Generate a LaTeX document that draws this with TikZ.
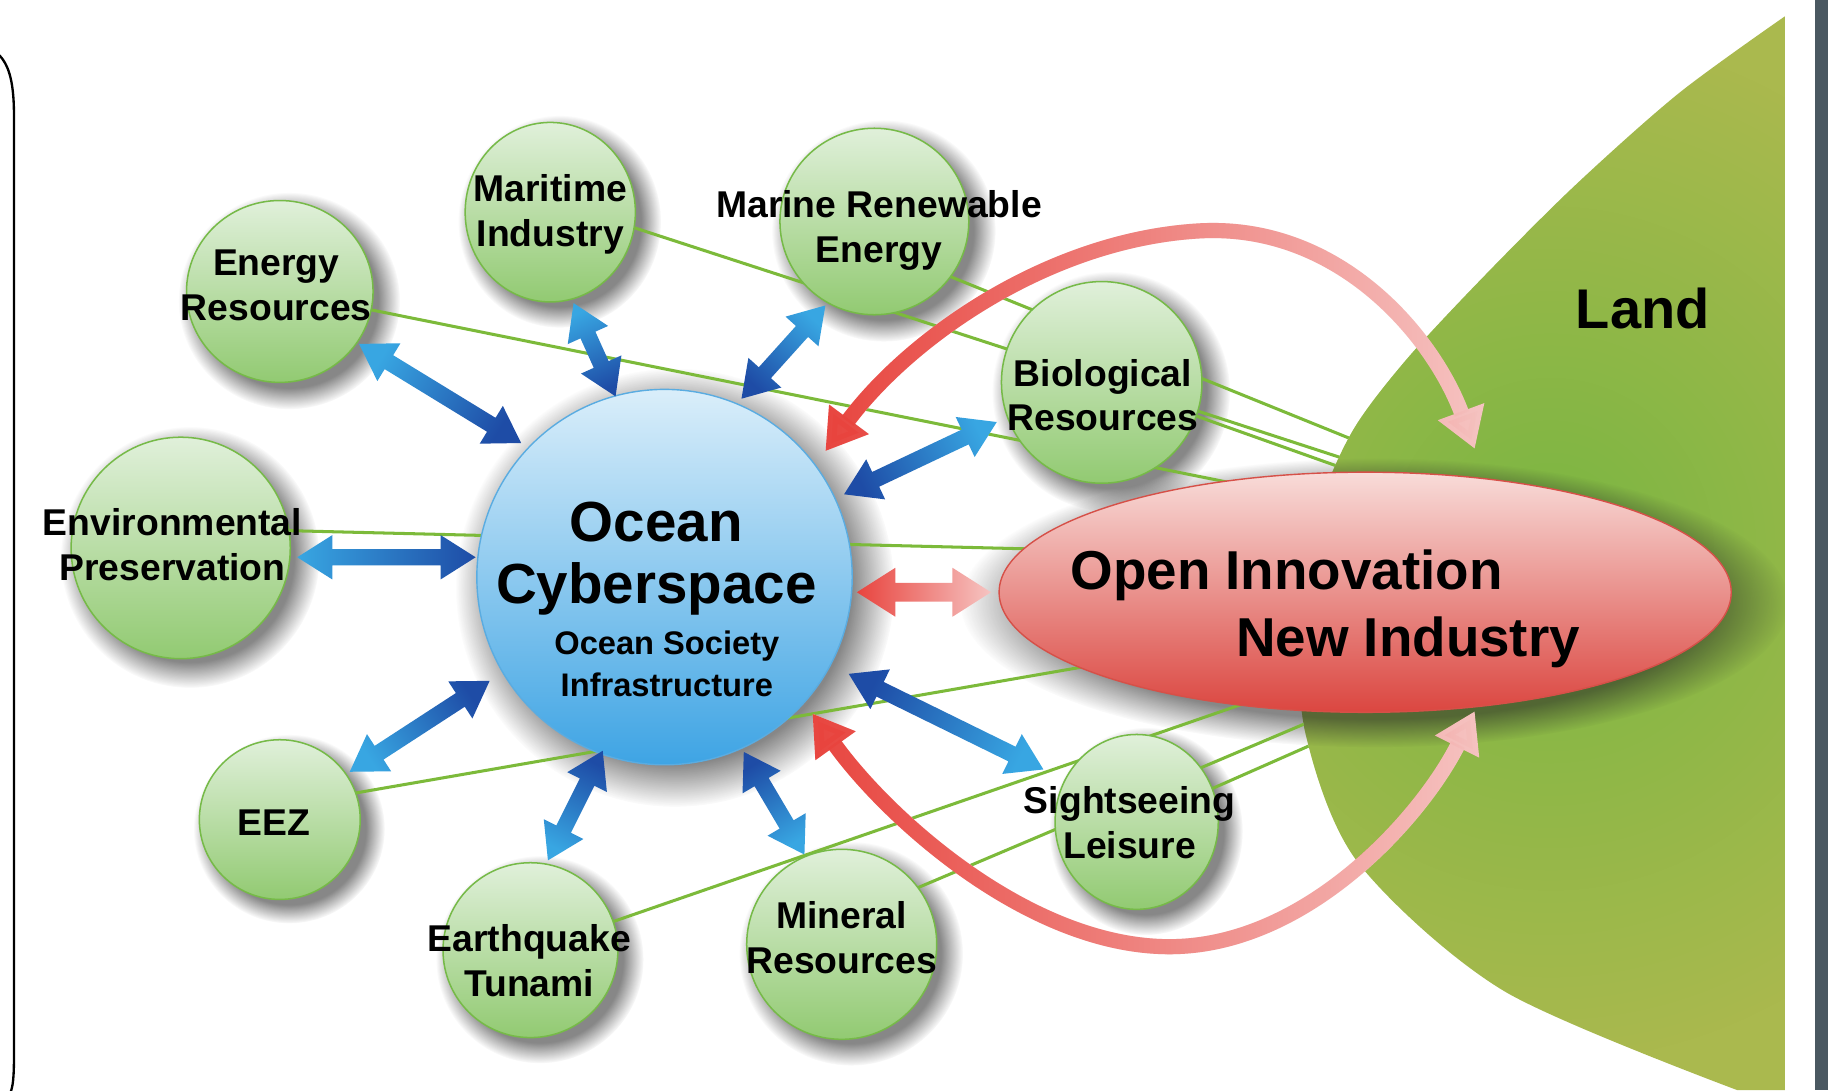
\documentclass[tikz,border=0pt]{standalone}
\usepackage{fontspec}
\setmainfont{Liberation Sans}
\usetikzlibrary{calc,fadings,arrows.meta,shapes.geometric}
\pgfdeclarelayer{bgl}
\pgfdeclarelayer{shl}
\pgfdeclarelayer{lnl}
\pgfsetlayers{bgl,shl,lnl,main}
\definecolor{gtop}{RGB}{224,240,218}
\definecolor{gbot}{RGB}{146,202,114}
\definecolor{gborder}{RGB}{118,186,72}
\definecolor{gline}{RGB}{124,186,58}
\definecolor{btop}{RGB}{218,238,250}
\definecolor{bbot}{RGB}{62,164,228}
\definecolor{bborder}{RGB}{90,172,225}
\definecolor{rtop}{RGB}{248,220,217}
\definecolor{rbot}{RGB}{219,70,64}
\definecolor{rborder}{RGB}{214,80,72}
\definecolor{landout}{RGB}{170,185,78}
\definecolor{landin}{RGB}{122,182,66}
\definecolor{adark}{RGB}{30,76,166}
\definecolor{alight}{RGB}{56,166,226}
\definecolor{rarrow}{RGB}{232,68,62}
\definecolor{parrow}{RGB}{246,196,194}
\definecolor{barc}{RGB}{74,88,97}
\tikzfading[name=fadeeast, left color=transparent!0, right color=transparent!100]
\tikzfading[name=blobfade, inner color=transparent!0, outer color=transparent!100]
\newcommand\mkdarrow[7]{%
  \shade[#4, shading angle=#3] (#1)
   -- ($(#1)!#5pt!(#2)!#6pt!90:(#2)$)
   -- ($(#1)!#5pt!(#2)!#7pt!90:(#2)$)
   -- ($(#2)!#5pt!(#1)!#7pt!-90:(#1)$)
   -- ($(#2)!#5pt!(#1)!#6pt!-90:(#1)$)
   -- (#2)
   -- ($(#2)!#5pt!(#1)!#6pt!90:(#1)$)
   -- ($(#2)!#5pt!(#1)!#7pt!90:(#1)$)
   -- ($(#1)!#5pt!(#2)!#7pt!-90:(#2)$)
   -- ($(#1)!#5pt!(#2)!#6pt!-90:(#2)$)
   -- cycle;}
\begin{document}
\begin{tikzpicture}[x=1pt,y=-1pt,
  gcirc/.style={ellipse, draw=gborder, line width=1.3pt, top color=gtop, bottom color=gbot, inner sep=0pt},
  lab/.style={font=\fontsize{32}{38.5}\selectfont\bfseries, align=center, inner sep=0pt},
  gconn/.style={draw=gline, line width=2.6pt},
  shad/.style={fill=black!85, opacity=0.55, path fading=circle with fuzzy edge 20 percent},
  bluearr/.style={top color=alight, bottom color=adark},
  redarr/.style={top color=parrow, bottom color=rarrow},
  curvarr/.style={line width=13pt, {Triangle[width=40pt,length=34pt]}-{Triangle[width=40pt,length=34pt]}}]
\useasboundingbox (0,0) rectangle (1568,935);
\begin{pgfonlayer}{bgl}
 \fill[white] (0,0) rectangle (1568,935);
 \fill[landout] plot[smooth] coordinates {(1531,14) (1440,80) (1350,160) (1270,240) (1205,310) (1160,370) (1130,440) (1115,530) (1120,630) (1165,740) (1290,850) (1490,935)} -- (1531,935) -- cycle;
 \begin{scope}
  \clip plot[smooth] coordinates {(1531,14) (1440,80) (1350,160) (1270,240) (1205,310) (1160,370) (1130,440) (1115,530) (1120,630) (1165,740) (1290,850) (1490,935)} -- (1531,935) -- cycle;
  \fill[landin, path fading=blobfade] (1330,470) ellipse (420 and 440);
 \end{scope}
 \fill[barc] (1557,0) rectangle (1568,935);
 \draw[line width=2pt] (-2,46) .. controls (9,56) and (12,74) .. (12,100) -- (12,905) .. controls (12,925) and (11,932) .. (9,937);
\end{pgfonlayer}

% circles
\node[gcirc, minimum width=160pt, minimum height=156pt] (energy) at (240,250) {};
\node[gcirc, minimum width=146pt, minimum height=154pt] (mari) at (472,182) {};
\node[gcirc, minimum width=162pt, minimum height=160pt] (marine) at (750,190) {};
\node[gcirc, minimum width=172pt, minimum height=173pt] (bio) at (945,328) {};
\node[gcirc, minimum width=188pt, minimum height=190pt] (env) at (155,470) {};
\node[gcirc, minimum width=138pt, minimum height=137pt] (eez) at (240,703) {};
\node[gcirc, minimum width=150pt, minimum height=150pt] (quake) at (455,815) {};
\node[gcirc, minimum width=163pt, minimum height=163pt] (mineral) at (722,810) {};
\node[gcirc, minimum width=140pt, minimum height=150pt] (sight) at (975,705) {};
\node[ellipse, draw=bborder, line width=1.2pt, top color=btop, bottom color=bbot, inner sep=0pt, minimum width=322pt, minimum height=322pt] (ocean) at (570,495) {};
\node[ellipse, draw=rborder, line width=1.2pt, top color=rtop, bottom color=rbot, inner sep=0pt, minimum width=628pt, minimum height=206pt] (oi) at (1171,508) {};

% shadows
\begin{pgfonlayer}{shl}
\begin{scope}
 \clip (0,0) rectangle (1531,935);
 \fill[shad] ($(energy.center)+(8,8)$) ellipse (95 and 93);
 \fill[shad] ($(mari.center)+(8,8)$) ellipse (87 and 91);
 \fill[shad] ($(marine.center)+(8,8)$) ellipse (96 and 95);
 \fill[shad] ($(bio.center)+(8,8)$) ellipse (102 and 103);
 \fill[shad] ($(env.center)+(8,8)$) ellipse (111 and 112);
 \fill[shad] ($(eez.center)+(8,8)$) ellipse (82 and 81);
 \fill[shad] ($(quake.center)+(8,8)$) ellipse (89 and 89);
 \fill[shad] ($(mineral.center)+(8,8)$) ellipse (96 and 96);
 \fill[shad] ($(sight.center)+(8,8)$) ellipse (83 and 89);
 \fill[shad] ($(ocean.center)+(9,9)$) ellipse (188 and 188);
 \fill[shad] ($(oi.center)+(8,9)$) ellipse (355 and 124);
\end{scope}
\end{pgfonlayer}

% green connectors
\coordinate (sMar) at (500,181);
\coordinate (sMarine) at (780,223);
\coordinate (sEnv) at (200,454);
\coordinate (sEez) at (260,688);
\coordinate (sMin) at (760,773);
\coordinate (eEnergy) at (1060,415);
\coordinate (eMar) at (1170,399);
\coordinate (eMarine) at (1175,383);
\coordinate (eBio) at (1170,408);
\coordinate (eEnv) at (890,471);
\coordinate (eEez) at (935,571);
\coordinate (eQuake) at (1080,599);
\coordinate (eMin) at (1140,612);
\coordinate (eSight) at (1145,630);
\begin{pgfonlayer}{lnl}
\begin{scope}
 \clip (-10,-10) -- (1531,-10) -- plot[smooth] coordinates {(1531,14) (1440,80) (1350,160) (1270,240) (1205,310) (1160,370) (1130,440) (1115,530) (1120,630) (1165,740) (1290,850) (1490,935)} -- (1490,945) -- (-10,945) -- cycle;
 \draw[gconn] (energy.center) -- (eEnergy);
 \draw[gconn] (sMar) -- (eMar);
 \draw[gconn] (sMarine) -- (eMarine);
 \draw[gconn] (bio.center) -- (eBio);
 \draw[gconn] (sEnv) -- (eEnv);
 \draw[gconn] (sEez) -- (eEez);
 \draw[gconn] (quake.center) -- (eQuake);
 \draw[gconn] (sMin) -- (eMin);
 \draw[gconn] (sight.center) -- (eSight);
\end{scope}
\end{pgfonlayer}

% blue double arrows
\coordinate (a1d) at (447,380); \coordinate (a1l) at (308,295);
\coordinate (a2d) at (528,340); \coordinate (a2l) at (492,260);
\coordinate (a3d) at (636,342); \coordinate (a3l) at (708,262);
\coordinate (a4d) at (724,424); \coordinate (a4l) at (855,362);
\coordinate (a5d) at (408,478); \coordinate (a5l) at (255,478);
\coordinate (a6d) at (420,584); \coordinate (a6l) at (300,662);
\coordinate (a7d) at (517,644); \coordinate (a7l) at (470,738);
\coordinate (a8d) at (638,645); \coordinate (a8l) at (690,733);
\coordinate (a9d) at (728,578); \coordinate (a9l) at (895,660);
\coordinate (r1d) at (735,508); \coordinate (r1l) at (850,508);
\mkdarrow{a1d}{a1l}{58.5}{bluearr}{30}{19}{7}
\mkdarrow{a2d}{a2l}{24.2}{bluearr}{30}{19}{7}
\mkdarrow{a3d}{a3l}{-42}{bluearr}{30}{19}{7}
\mkdarrow{a4d}{a4l}{-64.7}{bluearr}{30}{19}{7}
\mkdarrow{a5d}{a5l}{90}{bluearr}{30}{19}{7}
\mkdarrow{a6d}{a6l}{123}{bluearr}{30}{19}{7}
\mkdarrow{a7d}{a7l}{153.4}{bluearr}{30}{19}{7}
\mkdarrow{a8d}{a8l}{-149.4}{bluearr}{30}{19}{7}
\mkdarrow{a9d}{a9l}{-116.2}{bluearr}{30}{19}{7}
\mkdarrow{r1d}{r1l}{-90}{redarr}{33}{21}{8}

% curved red arrows
\coordinate (tA) at (708,387); \coordinate (tB) at (1265,385);
\coordinate (bA) at (697,612); \coordinate (bB) at (1265,610);
\draw[parrow, curvarr] (tA) .. controls (780,290) and (900,205) .. (1030,198) .. controls (1150,192) and (1230,290) .. (tB);
\draw[rarrow, curvarr, path fading=fadeeast] (tA) .. controls (780,290) and (900,205) .. (1030,198) .. controls (1150,192) and (1230,290) .. (tB);
\draw[parrow, curvarr] (bA) .. controls (760,700) and (880,810) .. (1000,812) .. controls (1120,814) and (1220,700) .. (bB);
\draw[rarrow, curvarr, path fading=fadeeast] (bA) .. controls (760,700) and (880,810) .. (1000,812) .. controls (1120,814) and (1220,700) .. (bB);

% labels
\node[lab] (energyT) at (237,245) {Energy\\Resources};
\node[lab] (mariT) at (472,184) {Maritime\\Industry};
\node[lab] (marineT) at (754,198) {Marine Renewable\\Energy};
\node[lab] (bioT) at (946,339) {Biological\\Resources};
\node[lab] (envT) at (148,467) {Environmental\\Preservation};
\node[lab] (eezT) at (235,706) {EEZ};
\node[lab] (quakeT) at (454,824) {Earthquake\\Tunami};
\node[lab] (minT) at (722,804) {Mineral\\Resources};
\node[lab] (sightT) at (969,706) {Sightseeing\\Leisure};
\node[font=\fontsize{48.5}{53}\selectfont\bfseries, align=center, inner sep=0pt] (oceanT) at (563,479) {Ocean\\Cyberspace};
\node[font=\fontsize{28}{36}\selectfont\bfseries, align=center, inner sep=0pt] (oceanS) at (572,569) {Ocean Society\\Infrastructure};
\node[font=\fontsize{47}{57}\selectfont\bfseries, inner sep=0pt, anchor=base west] (oiT1) at (918,506) {Open Innovation};
\node[font=\fontsize{47}{57}\selectfont\bfseries, inner sep=0pt, anchor=base west] (oiT2) at (1060,563) {New Industry};
\node[font=\fontsize{48}{58}\selectfont\bfseries, inner sep=0pt, anchor=base] (landT) at (1409,282) {Land};
\end{tikzpicture}
\end{document}
